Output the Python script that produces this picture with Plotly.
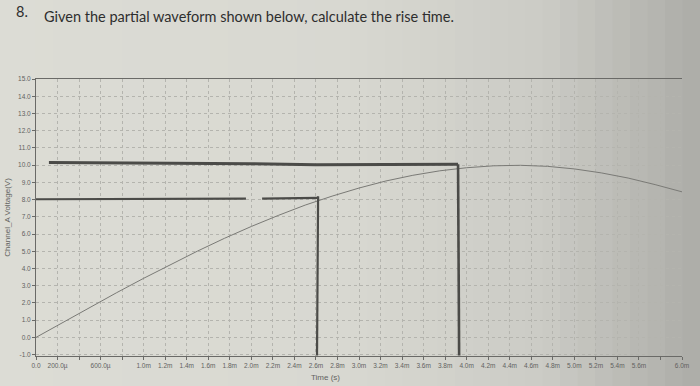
import plotly.graph_objects as go

# ---- data ----
time_ms = [0.0, 0.25, 0.5, 0.75, 1.0, 1.25, 1.5, 1.75, 2.0, 2.25, 2.5, 2.75, 3.0,
           3.25, 3.5, 3.75, 4.0, 4.25, 4.5, 4.75, 5.0, 5.25, 5.5, 5.75, 6.0]
voltage = [0.0, 0.87, 1.74, 2.60, 3.43, 4.24, 5.01, 5.75, 6.44, 7.08, 7.68, 8.20, 8.67,
           9.08, 9.41, 9.67, 9.85, 9.96, 9.99, 9.93, 9.78, 9.55, 9.25, 8.87, 8.45]

# hand-drawn pen marks on the printout
pen_top_t = [0.12, 1.0, 2.0, 2.6, 3.2, 3.92]
pen_top_v = [10.15, 10.12, 10.08, 10.02, 10.04, 10.05]
pen_80a_t = [0.0, 1.95]
pen_80a_v = [8.02, 8.05]
pen_80b_t = [2.1, 2.62]
pen_80b_v = [8.05, 8.1]
pen_v1_t = [2.62, 2.61]
pen_v1_v = [8.2, -1.05]
pen_v2_t = [3.92, 3.93]
pen_v2_v = [10.05, -1.05]

x_tick_ms = [0.0, 0.2, 0.4, 0.6, 0.8, 1.0, 1.2, 1.4, 1.6, 1.8, 2.0, 2.2, 2.4, 2.6, 2.8, 3.0,
             3.2, 3.4, 3.6, 3.8, 4.0, 4.2, 4.4, 4.6, 4.8, 5.0, 5.2, 5.4, 5.6, 5.8, 6.0]
x_tick_text = ["0.0", "200.0µ", "", "600.0µ", "", "1.0m", "1.2m", "1.4m", "1.6m", "1.8m",
               "2.0m", "2.2m", "2.4m", "2.6m", "2.8m", "3.0m", "3.2m", "3.4m", "3.6m", "3.8m",
               "4.0m", "4.2m", "4.4m", "4.6m", "4.8m", "5.0m", "5.2m", "5.4m", "5.6m", "", "6.0m"]
y_tick_vals = [-1, 0, 1, 2, 3, 4, 5, 6, 7, 8, 9, 10, 11, 12, 13, 14, 15]
y_tick_text = ["-1.0", "0.0", "1.0", "2.0", "3.0", "4.0", "5.0", "6.0", "7.0", "8.0", "9.0",
               "10.0", "11.0", "12.0", "13.0", "14.0", "15.0"]

def sec(lst):
    return [v * 1e-3 for v in lst]

fig = go.Figure()

fig.add_trace(go.Scatter(x=sec(time_ms), y=voltage, mode="lines",
                         line=dict(color="#7a7a76", width=1), hoverinfo="skip"))

pen = "#4b4b48"
for tx, vy, w in [(pen_top_t, pen_top_v, 3), (pen_80a_t, pen_80a_v, 2.2),
                  (pen_80b_t, pen_80b_v, 2.2), (pen_v1_t, pen_v1_v, 2.2),
                  (pen_v2_t, pen_v2_v, 2.6)]:
    fig.add_trace(go.Scatter(x=sec(tx), y=vy, mode="lines",
                             line=dict(color=pen, width=w), hoverinfo="skip"))

# paper photo background (horizontal shading)
stops = [(0.0, (220, 220, 213)), (0.5, (216, 216, 209)), (0.78, (203, 203, 197)),
         (1.0, (172, 172, 167))]
def col_at(f):
    for (f0, c0), (f1, c1) in zip(stops[:-1], stops[1:]):
        if f0 <= f <= f1:
            r = (f - f0) / (f1 - f0)
            return "rgb(%d,%d,%d)" % tuple(round(a + (b - a) * r) for a, b in zip(c0, c1))
    return "rgb(%d,%d,%d)" % stops[-1][1]

L, R, T, B = 36, 18, 79, 30
W, H = 700, 386
pw, ph = W - L - R, H - T - B
shapes = []
n = 40
for i in range(n):
    px0 = W * i / n
    px1 = W * (i + 1) / n + 1
    shapes.append(dict(type="rect", xref="paper", yref="paper", layer="below",
                       x0=(px0 - L) / pw, x1=(px1 - L) / pw,
                       y0=-(B + 2) / ph, y1=(ph + T + 2) / ph,
                       fillcolor=col_at((i + 0.5) / n), line=dict(width=0)))

fig.update_layout(
    width=W, height=H,
    margin=dict(l=L, r=R, t=T, b=B, autoexpand=False),
    paper_bgcolor="rgb(214,214,208)",
    plot_bgcolor="rgba(0,0,0,0)",
    showlegend=False,
    shapes=shapes,
    font=dict(family="Liberation Sans, Arial, sans-serif", color="#5a5a58"),
)

fig.update_xaxes(range=[0, 6.0e-3], tickvals=sec(x_tick_ms), ticktext=x_tick_text,
                 tickfont=dict(size=6.5, color="#62625f"), tickangle=0, automargin=False,
                 showline=True, linecolor="#6a6a67", linewidth=1, mirror=True,
                 ticks="outside", ticklen=3, tickcolor="#6a6a67",
                 showgrid=True, gridcolor="#b4b4ae", griddash="dot", gridwidth=1,
                 zeroline=False)
fig.update_yaxes(range=[-1.08, 15.0], tickvals=y_tick_vals, ticktext=y_tick_text,
                 tickfont=dict(size=6.5, color="#62625f"), automargin=False,
                 showline=True, linecolor="#6a6a67", linewidth=1,
                 ticks="outside", ticklen=3, tickcolor="#6a6a67",
                 showgrid=True, gridcolor="#b4b4ae", griddash="dot", gridwidth=1,
                 zeroline=False,
                 title=dict(text="Channel_A Voltage(V)", standoff=6,
                            font=dict(size=8, color="#62625f")))

fig.add_annotation(text="Time (s)", xref="paper", yref="paper",
                   x=(325 - L) / pw, y=-(377 - (T + ph)) / ph, yanchor="middle",
                   showarrow=False, font=dict(size=8, color="#62625f"))
fig.add_annotation(text="8.", xref="paper", yref="paper",
                   x=(14 - L) / pw, y=(T + ph - 11) / ph, xanchor="left", yanchor="middle",
                   showarrow=False, font=dict(family="Lato, Open Sans, sans-serif", size=14.5, color="#2e2e2e"))
fig.add_annotation(text="Given the partial waveform shown below, calculate the rise time.",
                   xref="paper", yref="paper",
                   x=(42 - L) / pw, y=(T + ph - 17) / ph, xanchor="left", yanchor="middle",
                   showarrow=False, font=dict(family="Lato, Open Sans, sans-serif", size=14.5, color="#2e2e2e"))

fig.write_html("out.html", config={"displayModeBar": False},
               post_script="document.body.style.margin='0';")
